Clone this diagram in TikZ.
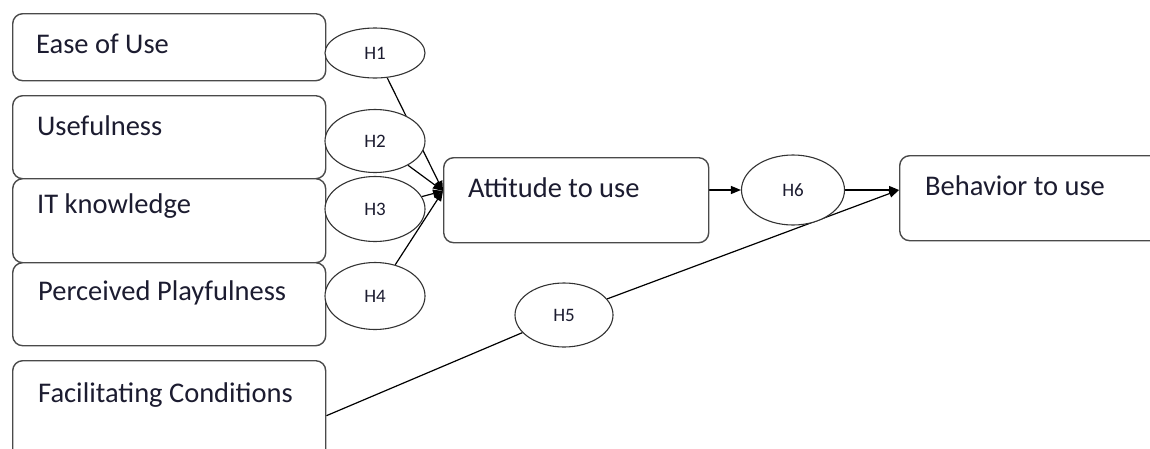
\documentclass[tikz,border=0pt]{standalone}
\usepackage{fontspec}
\setmainfont{Carlito}
\usetikzlibrary{shapes.geometric, arrows.meta, positioning, backgrounds}
\definecolor{boxline}{HTML}{4A4A4A}
\definecolor{labeltext}{HTML}{1C1C30}

\begin{document}
\begin{tikzpicture}[
  x=1pt, y=-1pt,
  box/.style={draw=boxline, rounded corners=10pt, fill=white, line width=1.4pt,
              anchor=north west, minimum width=313pt, inner sep=0pt},
  lbl/.style={anchor=base west, text=labeltext, inner sep=0pt,
              font=\fontsize{28.5}{34}\selectfont},
  hyp/.style={ellipse, draw=black!80, fill=white, line width=1.1pt,
              minimum width=100pt, minimum height=64pt, inner sep=0pt,
              text=labeltext, font=\fontsize{19}{22}\selectfont},
  arrow/.style={-{Triangle[length=10pt, width=8pt]}, line width=1.2pt},
  link/.style={line width=1.2pt}
]
\useasboundingbox (0,0) rectangle (1150,448);

% Constructs
\node[box, minimum height=67pt] (ease) at (12,13) {};
\node[box, minimum height=83pt] (usef) at (12,95) {};
\node[box, minimum height=84pt] (itk) at (12,178) {};
\node[box, minimum height=83pt] (play) at (12,262) {};
\node[box, minimum height=110pt] (facil) at (12,360) {};
\node[box, minimum width=265pt, minimum height=85pt] (att) at (443,157) {};
\node[box, minimum width=270pt, minimum height=85pt] (beh) at (899,155) {};

% Labels
\node[lbl] (easet) at (36,53) {Ease of Use};
\node[lbl] (useft) at (37,135) {Usefulness};
\node[lbl] (itkt) at (37,213) {IT knowledge};
\node[lbl] (playt) at (38,300) {Perceived Playfulness};
\node[lbl] (facilt) at (38,402) {Facilitating Conditions};
\node[lbl] (attt) at (468,197) {Attitude to use};
\node[lbl] (beht) at (925,195) {Behavior to use};

% Hypotheses
\node[hyp, minimum height=50pt] (h1) at (375,53) {H1};
\node[hyp, minimum height=63pt] (h2) at (375,141) {H2};
\node[hyp, minimum height=65pt] (h3) at (375,209) {H3};
\node[hyp, minimum height=67pt] (h4) at (375,296) {H4};
\node[hyp, minimum width=98pt] (h5) at (564,315) {H5};
\node[hyp, minimum width=103pt, minimum height=70pt] (h6) at (793,190) {H6};

\coordinate (attin) at (443,191);
\coordinate (behin) at (h6.east -| beh.west);

% Arrows
\begin{scope}[on background layer]
\draw[arrow] (h1) -- (attin);
\draw[arrow] (h2) -- (attin);
\draw[arrow] (h3) -- (attin);
\draw[arrow] (h4) -- (attin);
\draw[arrow] (att.east |- h6.west) -- (h6.west);
\draw[arrow] (h6.east) -- (behin);
\draw[arrow] (h5) -- (behin);
\draw[link] (facil.east) -- (h5);
\end{scope}

\end{tikzpicture}
\end{document}
